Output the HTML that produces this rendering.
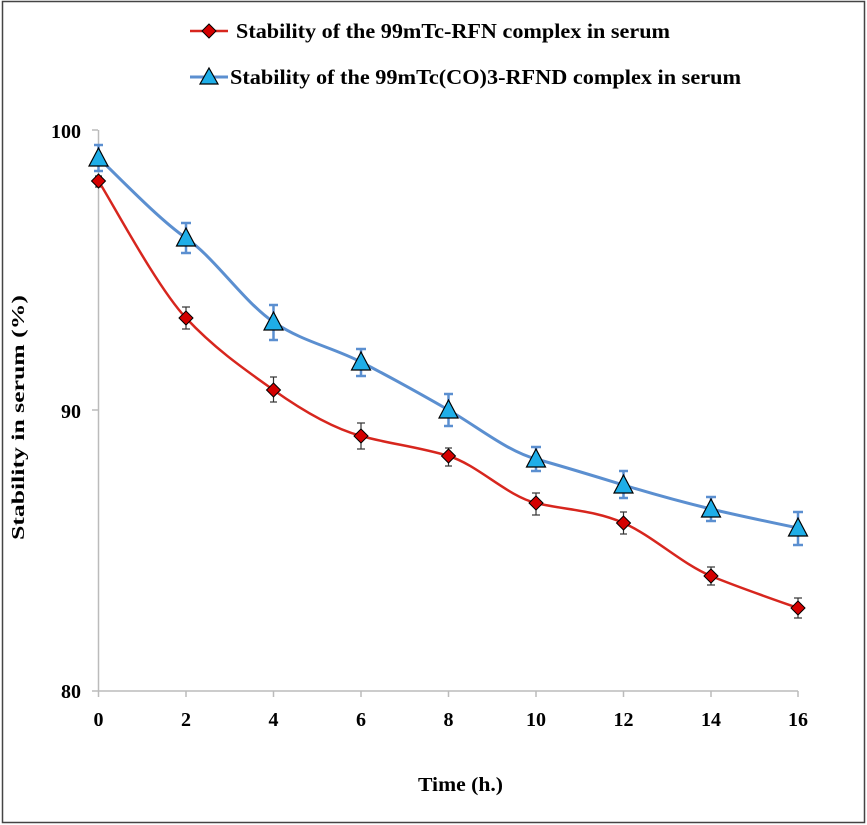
<!DOCTYPE html>
<html><head><meta charset="utf-8"><style>
html,body{margin:0;padding:0;background:#fff;}
svg{display:block;}
text{font-family:"Liberation Serif",serif;font-weight:bold;fill:#000;}
</style></head><body>
<svg width="867" height="825" viewBox="0 0 867 825" xmlns="http://www.w3.org/2000/svg">
<rect x="2.5" y="1.5" width="862" height="821" fill="#fff" stroke="#444" stroke-width="1.5"/>
<line x1="98.5" y1="130" x2="98.5" y2="691" stroke="#bbb" stroke-width="1.5"/>
<line x1="92" y1="691" x2="798" y2="691" stroke="#bbb" stroke-width="1.5"/>
<g stroke="#bbb" stroke-width="1.5">
<line x1="92" y1="130" x2="98" y2="130"/><line x1="92" y1="410" x2="98" y2="410"/>
<line x1="98.5" y1="691" x2="98.5" y2="697"/><line x1="186" y1="691" x2="186" y2="697"/><line x1="273.5" y1="691" x2="273.5" y2="697"/><line x1="361" y1="691" x2="361" y2="697"/><line x1="448.5" y1="691" x2="448.5" y2="697"/><line x1="536" y1="691" x2="536" y2="697"/><line x1="623.5" y1="691" x2="623.5" y2="697"/><line x1="711" y1="691" x2="711" y2="697"/><line x1="798" y1="691" x2="798" y2="697"/>
</g>
<g font-size="20" text-anchor="end">
<text x="81" y="138">100</text><text x="81" y="418">90</text><text x="81" y="698">80</text>
</g>
<g font-size="20" text-anchor="middle">
<text x="98.5" y="726">0</text><text x="186" y="726">2</text><text x="273.5" y="726">4</text><text x="361" y="726">6</text><text x="448.5" y="726">8</text><text x="536" y="726">10</text><text x="623.5" y="726">12</text><text x="711" y="726">14</text><text x="798" y="726">16</text>
</g>
<text x="418" y="791" font-size="20" textLength="85" lengthAdjust="spacingAndGlyphs">Time (h.)</text>
<text transform="translate(24,540) rotate(-90)" font-size="18" textLength="245" lengthAdjust="spacingAndGlyphs">Stability in serum   (%)</text>
<line x1="190" y1="31" x2="228" y2="31" stroke="#d7261e" stroke-width="2.5"/>
<polygon points="209,24 216,31 209,38 202,31" fill="#d40000" stroke="#000" stroke-width="1"/>
<text x="236" y="38" font-size="21" textLength="434" lengthAdjust="spacingAndGlyphs">Stability of the 99mTc-RFN complex in serum</text>
<line x1="190" y1="77" x2="228" y2="77" stroke="#5b8fd0" stroke-width="3"/>
<polygon points="209,68 218,84 200,84" fill="#1faee8" stroke="#000" stroke-width="1.2"/>
<text x="230" y="84" font-size="21" textLength="511" lengthAdjust="spacingAndGlyphs">Stability of the 99mTc(CO)3-RFND complex in serum</text>
<g stroke="#333" stroke-width="1.2">
<line x1="98.5" y1="176" x2="98.5" y2="187"/><line x1="95" y1="176" x2="102" y2="176"/><line x1="95" y1="187" x2="102" y2="187"/>
<line x1="186" y1="307" x2="186" y2="329"/><line x1="182" y1="307" x2="190" y2="307"/><line x1="182" y1="329" x2="190" y2="329"/>
<line x1="273.5" y1="377" x2="273.5" y2="402"/><line x1="270" y1="377" x2="277" y2="377"/><line x1="270" y1="402" x2="277" y2="402"/>
<line x1="361" y1="423" x2="361" y2="449"/><line x1="357" y1="423" x2="365" y2="423"/><line x1="357" y1="449" x2="365" y2="449"/>
<line x1="448.5" y1="448" x2="448.5" y2="466"/><line x1="445" y1="448" x2="452" y2="448"/><line x1="445" y1="466" x2="452" y2="466"/>
<line x1="536" y1="493" x2="536" y2="515"/><line x1="532" y1="493" x2="540" y2="493"/><line x1="532" y1="515" x2="540" y2="515"/>
<line x1="623.5" y1="512" x2="623.5" y2="534"/><line x1="620" y1="512" x2="627" y2="512"/><line x1="620" y1="534" x2="627" y2="534"/>
<line x1="711" y1="567" x2="711" y2="585"/><line x1="707" y1="567" x2="715" y2="567"/><line x1="707" y1="585" x2="715" y2="585"/>
<line x1="798" y1="598" x2="798" y2="618"/><line x1="794" y1="598" x2="802" y2="598"/><line x1="794" y1="618" x2="802" y2="618"/>
</g>
<g stroke="#5b8fd0" stroke-width="2.5">
<line x1="98.5" y1="145" x2="98.5" y2="171"/><line x1="94" y1="145" x2="103" y2="145"/><line x1="94" y1="171" x2="103" y2="171"/>
<line x1="186" y1="223" x2="186" y2="253"/><line x1="181" y1="223" x2="191" y2="223"/><line x1="181" y1="253" x2="191" y2="253"/>
<line x1="273.5" y1="305" x2="273.5" y2="340"/><line x1="269" y1="305" x2="278" y2="305"/><line x1="269" y1="340" x2="278" y2="340"/>
<line x1="361" y1="349" x2="361" y2="376"/><line x1="356" y1="349" x2="366" y2="349"/><line x1="356" y1="376" x2="366" y2="376"/>
<line x1="448.5" y1="394" x2="448.5" y2="426"/><line x1="444" y1="394" x2="453" y2="394"/><line x1="444" y1="426" x2="453" y2="426"/>
<line x1="536" y1="447" x2="536" y2="471"/><line x1="531" y1="447" x2="541" y2="447"/><line x1="531" y1="471" x2="541" y2="471"/>
<line x1="623.5" y1="471" x2="623.5" y2="498"/><line x1="619" y1="471" x2="628" y2="471"/><line x1="619" y1="498" x2="628" y2="498"/>
<line x1="711" y1="497" x2="711" y2="521"/><line x1="706" y1="497" x2="716" y2="497"/><line x1="706" y1="521" x2="716" y2="521"/>
<line x1="798" y1="512" x2="798" y2="545"/><line x1="793" y1="512" x2="803" y2="512"/><line x1="793" y1="545" x2="803" y2="545"/>
</g>
<path d="M98.5,181 C113,204 157,287 186,318 C215,349 244,369 273.5,390 C303,411 332,428 361,436 C390,444 419,447 448.5,456 C478,465 507,496 536,503 C565,510 594,510 623.5,523 C653,536 682,564 711,576 C740,588 784,603 798,608" fill="none" stroke="#d7261e" stroke-width="2.5"/>
<path d="M98.5,158 C113,171 157,218 186,238 C215,258 244,302 273.5,322 C303,342 332,347 361,362 C390,377 419,393 448.5,410 C478,427 507,451 536,459 C565,467 594,476 623.5,485 C653,494 682,502 711,509 C740,516 784,525 798,528" fill="none" stroke="#5b8fd0" stroke-width="3"/>
<g fill="#d40000" stroke="#000" stroke-width="1">
<polygon points="98.5,174 105.5,181 98.5,188 91.5,181"/>
<polygon points="186,311 193,318 186,325 179,318"/>
<polygon points="273.5,383 280.5,390 273.5,397 266.5,390"/>
<polygon points="361,429 368,436 361,443 354,436"/>
<polygon points="448.5,449 455.5,456 448.5,463 441.5,456"/>
<polygon points="536,496 543,503 536,510 529,503"/>
<polygon points="623.5,516 630.5,523 623.5,530 616.5,523"/>
<polygon points="711,569 718,576 711,583 704,576"/>
<polygon points="798,601 805,608 798,615 791,608"/>
</g>
<g fill="#1faee8" stroke="#000" stroke-width="1.2">
<polygon points="98.5,148 108,166 89,166"/>
<polygon points="186,228 195.5,246 176.5,246"/>
<polygon points="273.5,312 283,330 264,330"/>
<polygon points="361,352 370.5,370 351.5,370"/>
<polygon points="448.5,400 458,418 439,418"/>
<polygon points="536,449 545.5,467 526.5,467"/>
<polygon points="623.5,475 633,493 614,493"/>
<polygon points="711,499 720.5,517 701.5,517"/>
<polygon points="798,518 807.5,536 788.5,536"/>
</g>
</svg>
</body></html>
